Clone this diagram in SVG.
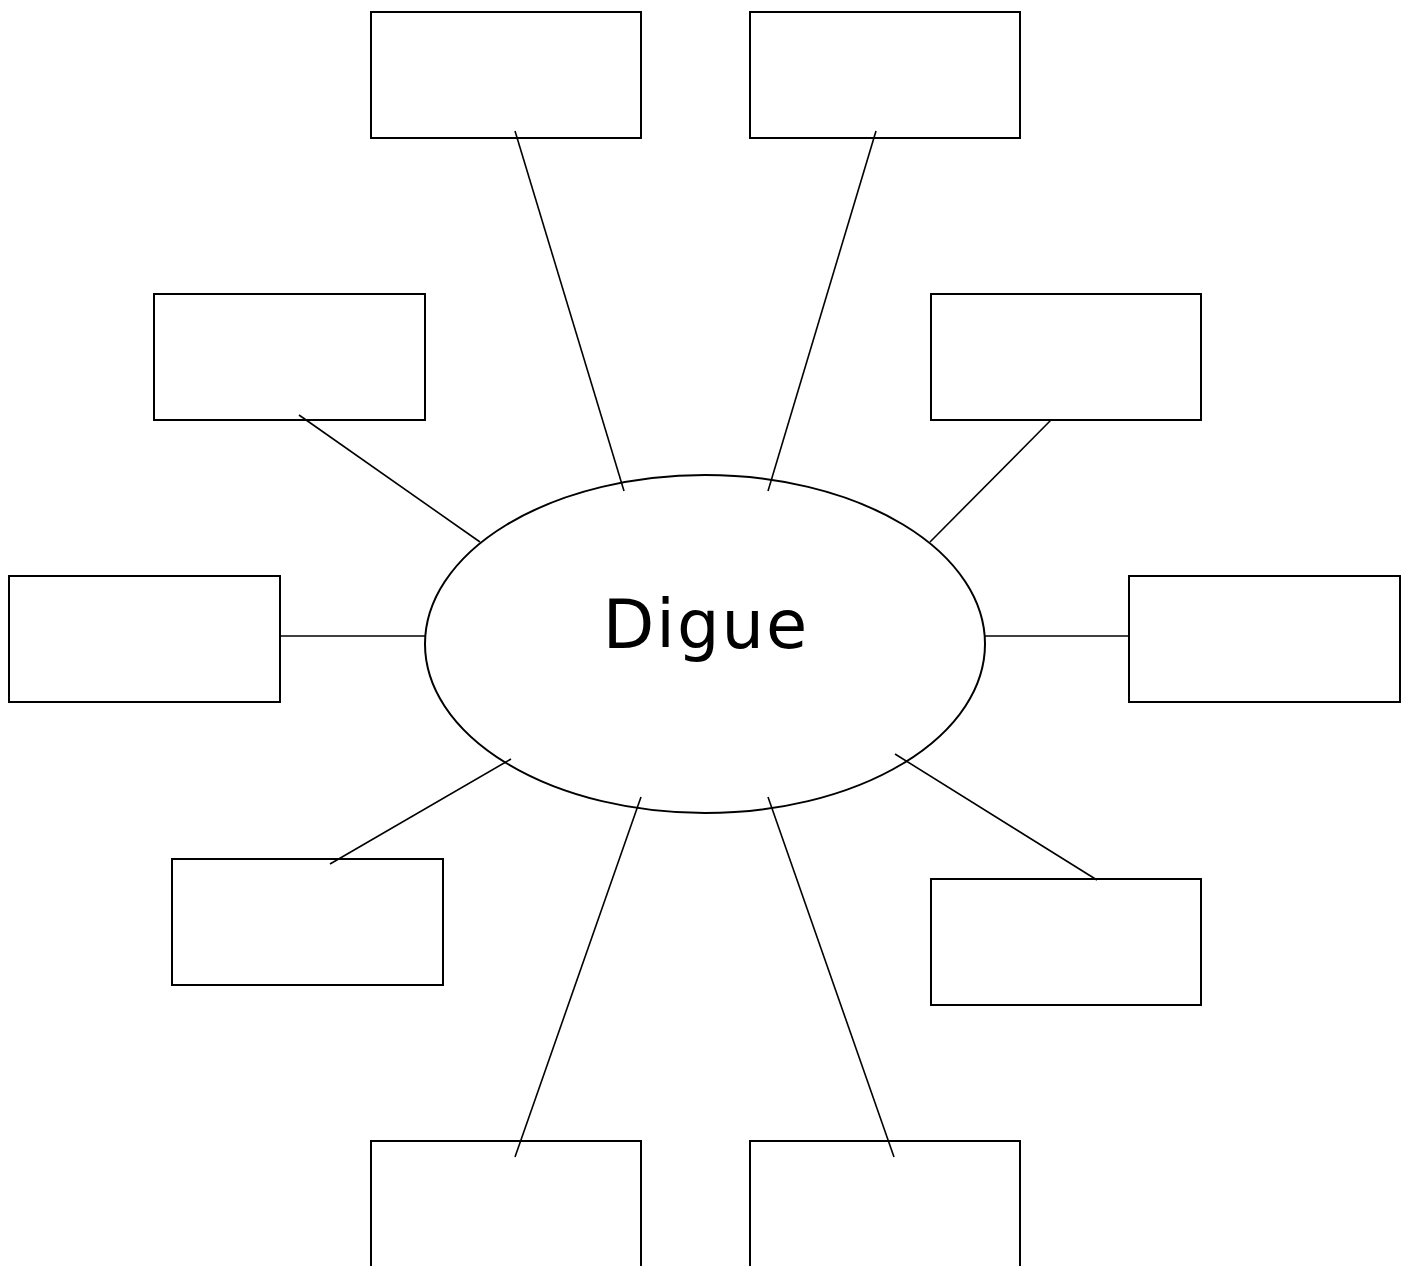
<svg xmlns="http://www.w3.org/2000/svg" width="1404" height="1266" viewBox="0 0 1404 1266">
<style>
.box{fill:#fff;stroke:#000;stroke-width:2}
.ln{stroke:#000;stroke-width:1.6;fill:none}
.lbl{font-family:"DejaVu Sans",sans-serif;font-size:67px;fill:#000;letter-spacing:2px}
</style>
<rect width="1404" height="1266" fill="#fff"/>
<g id="n1"><rect class="box" x="371" y="12" width="270" height="126"/></g>
<g id="n2"><rect class="box" x="750" y="12" width="270" height="126"/></g>
<g id="n3"><rect class="box" x="154" y="294" width="271" height="126"/></g>
<g id="n4"><rect class="box" x="931" y="294" width="270" height="126"/></g>
<g id="n5"><rect class="box" x="9" y="576" width="271" height="126"/></g>
<g id="n6"><rect class="box" x="1129" y="576" width="271" height="126"/></g>
<g id="n7"><rect class="box" x="172" y="859" width="271" height="126"/></g>
<g id="n8"><rect class="box" x="931" y="879" width="270" height="126"/></g>
<g id="n9"><rect class="box" x="371" y="1141" width="270" height="140"/></g>
<g id="n10"><rect class="box" x="750" y="1141" width="270" height="140"/></g>
<g id="center"><ellipse cx="705" cy="644" rx="280" ry="169" fill="none" stroke="#000" stroke-width="2"/>
<text class="lbl" x="706" y="648" text-anchor="middle">Digue</text></g>
<g id="connectors">
<line class="ln" x1="515" y1="131" x2="624" y2="491"/>
<line class="ln" x1="876" y1="131" x2="768" y2="491"/>
<line class="ln" x1="299" y1="415" x2="480" y2="542"/>
<line class="ln" x1="1051" y1="420" x2="930" y2="542"/>
<line class="ln" x1="280" y1="636" x2="425" y2="636"/>
<line class="ln" x1="985" y1="636" x2="1129" y2="636"/>
<line class="ln" x1="511" y1="759" x2="330" y2="864"/>
<line class="ln" x1="895" y1="754" x2="1097" y2="880"/>
<line class="ln" x1="641" y1="797" x2="515" y2="1157"/>
<line class="ln" x1="768" y1="797" x2="894" y2="1157"/>
</g>
</svg>
